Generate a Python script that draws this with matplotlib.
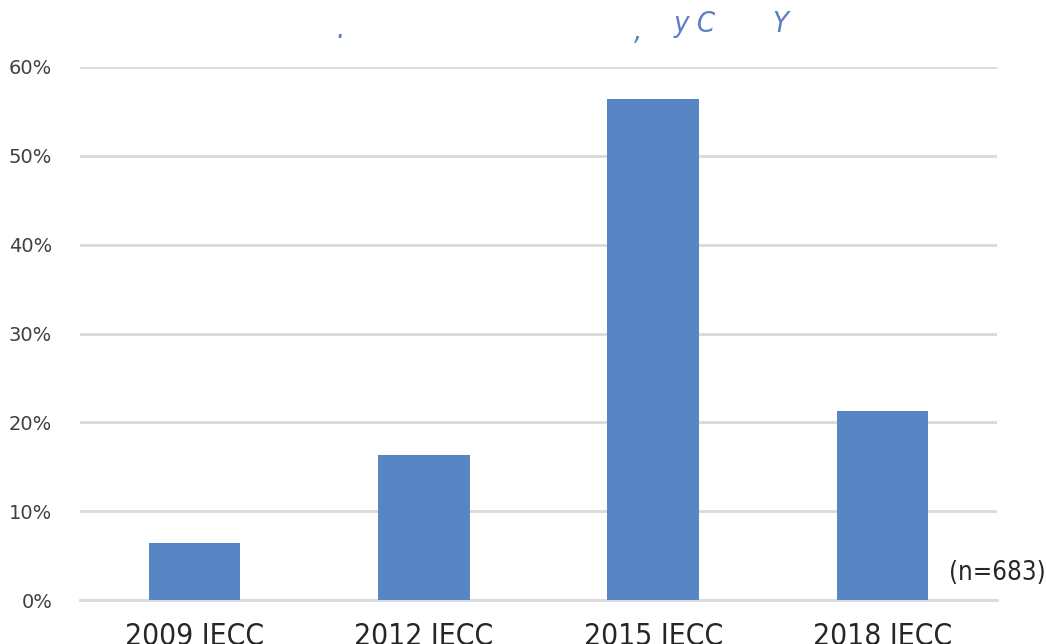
import matplotlib.pyplot as plt
from matplotlib.ticker import PercentFormatter

categories = ["2009 IECC", "2012 IECC", "2015 IECC", "2018 IECC"]
shares = [0.064, 0.163, 0.564, 0.213]
yticks = [0.0, 0.1, 0.2, 0.3, 0.4, 0.5, 0.6]
# the title only rendered as scattered fragments in the original
title_bits = [(".", 0.322, 0.953), (",", 0.606, 0.950), ("y C", 0.644, 0.962),
              ("Y", 0.738, 0.962)]

BAR = "#5885C4"
GRID = "#D9D9D9"
NARROW = dict(family="DejaVu Sans", stretch="condensed")

fig = plt.figure(figsize=(10.46, 6.44), dpi=100)
ax = fig.add_axes([80 / 1046, 44 / 644, 917 / 1046, 533 / 644])

ax.bar(range(len(categories)), shares, width=0.4, color=BAR, zorder=3)
ax.set_xlim(-0.5, len(categories) - 0.5)
ax.set_ylim(0, 0.6)
ax.set_yticks(yticks)
ax.yaxis.set_major_formatter(PercentFormatter(1.0, decimals=0))
ax.grid(axis="y", color=GRID, linewidth=2, zorder=0)
ax.axhline(0, color=GRID, linewidth=2, zorder=1, clip_on=False)
ax.set_xticks(range(len(categories)))
ax.set_xticklabels(categories, fontsize=21.5, color="#262626", **NARROW)
for lab in ax.get_yticklabels():
    lab.set_family("DejaVu Sans")
    lab.set_fontsize(14)
    lab.set_color("#404040")
ax.tick_params(axis="both", length=0)
ax.tick_params(axis="x", pad=16)
ax.tick_params(axis="y", pad=20)
for s in ax.spines.values():
    s.set_visible(False)

ax.text(1.0, 0.05, "(n=683)", transform=ax.transAxes, ha="center", va="center",
        fontsize=18.5, color="#262626", **NARROW)

for txt, x, y in title_bits:
    fig.text(x, y, txt, ha="left", va="center", fontsize=21,
             style="italic", color="#5B7FC6", **NARROW)

fig.savefig("out.png", dpi=100)
